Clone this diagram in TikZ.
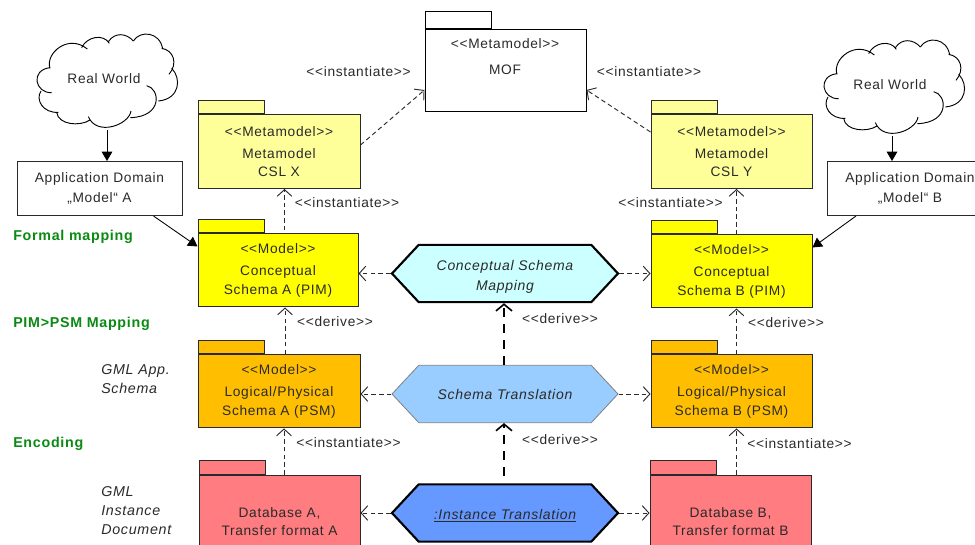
\documentclass[tikz,border=0pt]{standalone}
\usepackage{fontspec}
\setmainfont[LetterSpace=5]{Liberation Sans}
\usetikzlibrary{arrows.meta,calc,shapes.symbols}
\definecolor{inkc}{HTML}{2A2A2A}
\definecolor{metay}{HTML}{FFFF99}
\definecolor{modely}{HTML}{FFFF00}
\definecolor{psmo}{HTML}{FFBF00}
\definecolor{dbr}{HTML}{FF7C80}
\definecolor{hexc}{HTML}{CCFFFF}
\definecolor{hexb}{HTML}{99CCFF}
\definecolor{hexd}{HTML}{6699FF}
\definecolor{greenl}{HTML}{0A8A12}
\newcommand{\stt}[1]{<{}<#1>{}>}
\tikzset{
  x=0.75pt,y=-0.75pt,
  txt/.style={font=\fontsize{10.3}{13}\selectfont,text=inkc,inner sep=0pt,align=center},
  pkg/.style={draw=inkc,line width=0.75pt,txt,minimum width=#1*0.75pt},
  tabbox/.style={draw=inkc,line width=0.75pt,minimum width=49.5pt,inner sep=0pt,anchor=south west},
  hexn/.style={signal,signal to=west and east,signal pointer angle=94,minimum width=169.5pt,minimum height=43pt,inner sep=0pt,txt,font=\fontsize{10.5}{15}\selectfont\itshape},
  hexthick/.style={hexn,draw=black,line width=1.6pt},
  hexthin/.style={hexn,draw=gray,line width=0.6pt},
  dep/.style={draw=inkc,line width=0.7pt,dash pattern=on 3.4pt off 2.4pt,-{Straight Barb[length=5pt,width=11pt,line width=0.7pt]}},
  depthick/.style={draw=black,line width=1.4pt,dash pattern=on 7pt off 5pt,-{Straight Barb[length=5pt,width=12pt,line width=1.2pt]}},
  assoc/.style={draw=black,line width=0.65pt,-{Triangle[length=7pt,width=8pt]}},
  lab/.style={txt},
  leftg/.style={font=\fontsize{10.7}{13}\selectfont\bfseries,text=greenl,inner sep=0pt,anchor=west},
  lefti/.style={font=\fontsize{10.7}{14.2}\selectfont\itshape,text=inkc,inner sep=0pt,anchor=north west,align=left},
  puff/.style={draw=black,line width=0.7pt}
}
\newcommand{\cloudpath}[2]{%
  \begin{scope}[shift={(25+#1,25+#2)},x=0.25pt,y=-0.25pt]
  \draw[puff] (75,130) .. controls (60,85) and (130,25) .. (187,72);
  \draw[puff] (170,68) .. controls (185,35) and (235,25) .. (253,55);
  \draw[puff] (250,50) .. controls (270,20) and (305,25) .. (325,48);
  \draw[puff] (325,48) .. controls (345,15) and (405,20) .. (413,72);
  \draw[puff] (410,70) .. controls (445,75) and (460,115) .. (432,148);
  \draw[puff] (440,130) .. controls (470,160) and (465,222) .. (400,228);
  \draw[puff] (365,182) .. controls (405,190) and (415,275) .. (316,278);
  \draw[puff] (318,258) .. controls (312,300) and (215,335) .. (190,275);
  \draw[puff] (195,285) .. controls (165,305) and (100,300) .. (95,262);
  \draw[puff] (100,262) .. controls (55,265) and (30,225) .. (48,198);
  \draw[puff] (80,203) .. controls (30,205) and (15,135) .. (75,128);
  \end{scope}}
\begin{document}
\begin{tikzpicture}
\clip (0,0) rectangle (975,545);
\fill[white] (0,0) rectangle (975,545);

% clouds
\cloudpath{0}{0}
\cloudpath{787}{6}
\node[txt] (rwA) at (104,79) {Real World};
\node[txt] (rwB) at (890,85) {Real World};
\coordinate (rwAb) at (107,130);
\coordinate (rwBb) at (892,136);

% application domains
\node[pkg=165,fill=white,minimum height=40.5pt] (adA) at (99.5,188.5) {Application Domain\\[1.5pt]„Model“ A};
\node[pkg=165,fill=white,minimum height=40.5pt] (adB) at (910,188.5) {Application Domain\\[1.5pt]„Model“ B};

% MOF
\node[draw=black,line width=0.75pt,fill=white,minimum width=120.75pt,minimum height=61.5pt,inner sep=0pt] (mof) at (505.5,70.5) {};
\node[txt] (mofT) at (505,56.5) {\stt{Metamodel}\\[6.5pt]MOF};
\node[tabbox,fill=white,draw=black,line width=1pt,minimum height=13pt] (mofTab) at (425,29.5) {};

% packages
\node[pkg=162,fill=metay,minimum height=55.5pt] (cslX) at (279,151.5) {\stt{Metamodel}\\[3.5pt]Metamodel\\[1pt]CSL X};
\node[tabbox,fill=metay,minimum height=10pt] (cslXT) at (cslX.north west) {};
\node[pkg=161,fill=metay,minimum height=55.5pt] (cslY) at (731.5,151.5) {\stt{Metamodel}\\[3.5pt]Metamodel\\[1pt]CSL Y};
\node[tabbox,fill=metay,minimum height=10pt] (cslYT) at (cslY.north west) {};

\node[pkg=160,fill=modely,minimum height=54.75pt] (cA) at (278,270.5) {\stt{Model}\\[3.5pt]Conceptual\\[1pt]Schema A (PIM)};
\node[tabbox,fill=modely,minimum height=10pt] (cAT) at (cA.north west) {};
\node[pkg=161,fill=modely,minimum height=54.75pt] (cB) at (731.5,271.5) {\stt{Model}\\[3.5pt]Conceptual\\[1pt]Schema B (PIM)};
\node[tabbox,fill=modely,minimum height=10pt] (cBT) at (cB.north west) {};

\node[pkg=162,fill=psmo,minimum height=55pt] (lA) at (279,391.25) {\stt{Model}\\[3.5pt]Logical/Physical\\[1pt]Schema A (PSM)};
\node[tabbox,fill=psmo,minimum height=10pt] (lAT) at (lA.north west) {};
\node[pkg=161,fill=psmo,minimum height=55pt] (lB) at (731.5,391.25) {\stt{Model}\\[3.5pt]Logical/Physical\\[1pt]Schema B (PSM)};
\node[tabbox,fill=psmo,minimum height=10pt] (lBT) at (lB.north west) {};

\node[pkg=161,fill=dbr,minimum height=69.75pt] (dA) at (279.5,521.5) {Database A,\\[1pt]Transfer format A};
\node[tabbox,fill=dbr,minimum height=10.5pt] (dAT) at (dA.north west) {};
\node[pkg=161,fill=dbr,minimum height=69.75pt] (dB) at (730.5,521.5) {Database B,\\[1pt]Transfer format B};
\node[tabbox,fill=dbr,minimum height=10.5pt] (dBT) at (dB.north west) {};

% hexagons
\node[hexthick,fill=hexc] (hC) at (505,273.5) {\rule{0pt}{12.5pt}Conceptual Schema\\Mapping};
\node[hexthin,fill=hexb] (hS) at (505,394) {Schema Translation};
\node[hexthick,fill=hexd] (hI) at (505,513) {\rule{0pt}{12pt}\underline{:Instance Translation}};

% connectors
\draw[assoc] (rwAb) -- (rwAb |- adA.north);
\draw[assoc] (rwBb) -- (rwBb |- adB.north);
\draw[assoc] ($(adA.south west)+(137,0)$) -- ($(cA.north west)+(0,13)$);
\draw[assoc] ($(adB.south west)+(29,0)$) -- ($(cB.north east)+(0,13)$);

\draw[dep] ($(cslX.north east)+(0,31)$) -- ($(mof.south west)+(0,-22)$);
\draw[dep] ($(cslY.north west)+(0,18)$) -- ($(mof.south east)+(0,-22)$);

\draw[dep] ($(cA.north west)+(87,-3)$) -- ($(cslX.south west)+(87,0)$);
\draw[dep] ($(cB.north west)+(86,0)$) -- ($(cslY.south west)+(86,0)$);
\draw[dep] ($(lA.north west)+(87.5,0)$) -- ($(cA.south west)+(87.5,0)$);
\draw[dep] ($(lB.north west)+(86,0)$) -- ($(cB.south west)+(86,0)$);
\draw[dep] ($(dA.north west)+(85.5,0)$) -- ($(lA.south west)+(86.5,0)$);
\draw[dep] ($(dB.north west)+(87,0)$) -- ($(lB.south west)+(86,0)$);

\draw[dep] (hC.west) -- (cA.east |- hC.west);
\draw[dep] (hC.east) -- (cB.west |- hC.east);
\draw[dep] (hS.west) -- (lA.east |- hS.west);
\draw[dep] (hS.east) -- (lB.west |- hS.east);
\draw[dep] (hI.west) -- (dA.east |- hI.west);
\draw[dep] (hI.east) -- (dB.west |- hI.east);

\draw[depthick] ($(hS.north)+(-1,0)$) -- ($(hC.south)+(-1,0)$);
\draw[depthick] ($(hI.north)+(-1,-7)$) -- ($(hS.south)+(-1,0)$);

% labels
\node[lab] (l1) at (358.5,71.5) {\stt{instantiate}};
\node[lab] (l2) at (649,71.5) {\stt{instantiate}};
\node[lab] (l3) at (347,202.5) {\stt{instantiate}};
\node[lab] (l4) at (670.5,202.5) {\stt{instantiate}};
\node[lab] (l5) at (335,321.5) {\stt{derive}};
\node[lab] (l6) at (786,322.5) {\stt{derive}};
\node[lab] (l7) at (560,318.5) {\stt{derive}};
\node[lab] (l8) at (560,439.5) {\stt{derive}};
\node[lab] (l9) at (348.5,443) {\stt{instantiate}};
\node[lab] (l10) at (799.5,443.5) {\stt{instantiate}};

\node[leftg] (g1) at (13,237) {Formal mapping};
\node[leftg] (g2) at (13,323.5) {PIM>PSM Mapping};
\node[leftg] (g3) at (13,444) {Encoding};
\node[lefti] (i1) at (101,364) {GML App.\\Schema};
\node[lefti] (i2) at (101,486) {GML\\Instance\\Document};
\end{tikzpicture}
\end{document}
